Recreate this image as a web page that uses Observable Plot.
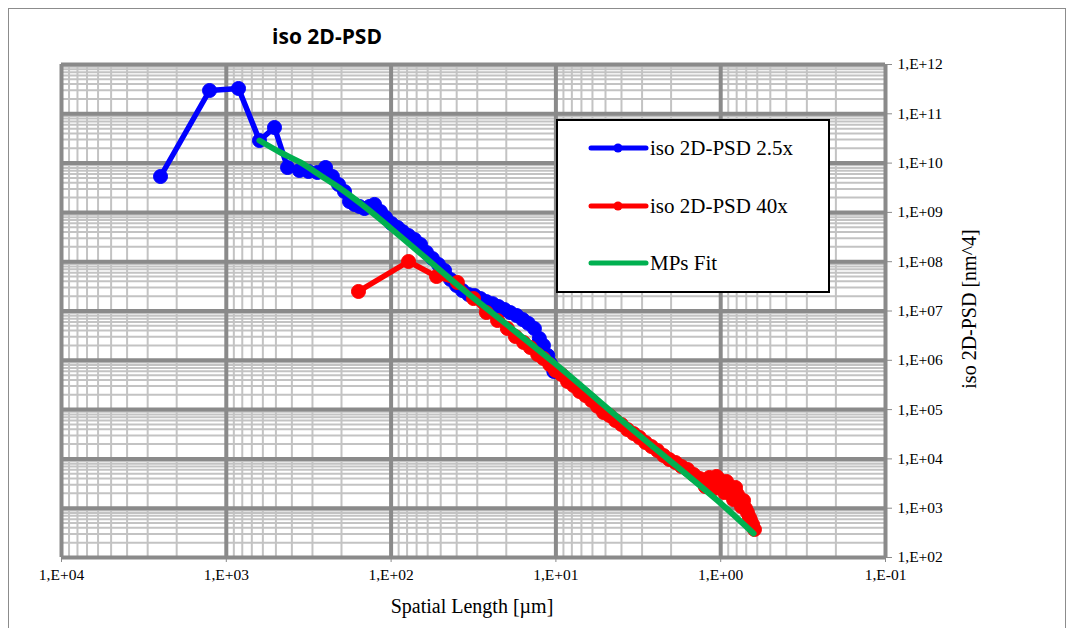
<!DOCTYPE html>
<html><head><meta charset="utf-8">
<script src="https://cdn.jsdelivr.net/npm/d3@7"></script>
<script src="https://cdn.jsdelivr.net/npm/@observablehq/plot@0.6"></script>
<style>
body{margin:0;background:#fff}
#wrap{position:relative;width:1074px;height:628px;overflow:hidden;background:#fff}
#chart{position:absolute;left:0;top:0}
#overlay{position:absolute;left:0;top:0}
g[aria-label="x-axis tick"], g[aria-label="y-axis tick"]{stroke:#8a8a8a}
</style></head><body><div id="wrap"><div id="chart"></div></div>
<script>
// ---- data (spatial length in µm, iso 2D-PSD in nm^4) ----
const blueX = [2507,1264,843,629,510,425,360,317,280,250,227,208.5,191.8,178.8,166.8,155.5,145,135.2,126.1,116,108.1,99.4,91.4,85.3,78.4,72.1,66.3,61.0,56.1,51.6,47.4,43.6,40.1,36.9,33.9,31.2,28.7,26.4,24.2,22.3,20.5,18.9,17.3,15.9,14.7,13.5,12.6,11.9,11.2,10.8,10.3];
const blueY = [5.35e9,2.97e11,3.26e11,2.87e10,5.27e10,8.14e9,7.08e9,6.76e9,6.45e9,8.14e9,5.35e9,3.68e9,2.65e9,1.66e9,1.45e9,1.32e9,1.20e9,1.32e9,1.45e9,1.04e9,7.88e8,5.95e8,4.94e8,4.10e8,3.40e8,2.82e8,2.23e8,1.54e8,1.16e8,8.78e7,6.63e7,4.35e7,3.29e7,2.60e7,2.16e7,2.06e7,1.79e7,1.55e7,1.41e7,1.23e7,1.07e7,9.3e6,8.1e6,6.7e6,5.6e6,4.4e6,2.77e6,2.00e6,1.25e6,8.61e5,5.93e5];

const redX = [157.7,78.4,53.0,39.6,31.6,26.4,22.6,19.7,17.6,15.7,14.3,12.9,11.9,10.9,10.06,9.25,8.50,7.82,7.19,6.61,6.08,5.59,5.14,4.73,4.35,4.00,3.68,3.38,3.11,2.86,2.63,2.42,2.22,2.05,1.88,1.73,1.59,1.46,1.34,1.24,1.17,1.137,1.09,1.060,1.02,0.989,0.948,0.922,0.897,0.860,0.836,0.813,0.791,0.769,0.748,0.727,0.707,0.688,0.669,0.659,0.641,0.624];
const redY = [2.49e7,1.01e8,5.01e7,3.79e7,1.79e7,9.32e6,6.42e6,4.42e6,3.04e6,2.30e6,1.82e6,1.31e6,1.09e6,8.22e5,6.21e5,5.15e5,3.72e5,3.08e5,2.33e5,1.93e5,1.53e5,1.16e5,8.73e4,7.59e4,6.01e4,4.99e4,3.95e4,3.27e4,2.72e4,2.15e4,1.78e4,1.48e4,1.17e4,9.72e3,8.45e3,7.01e3,6.10e3,4.83e3,4.00e3,2.75e3,4.20e3,3.32e3,2.51e3,4.40e3,3.82e3,2.75e3,2.08e3,3.48e3,2.75e3,2.29e3,1.50e3,2.63e3,1.90e3,1.57e3,1.08e3,1.43e3,986,818,648,563,467,370];

const fitX = [629,469,355,268,203,153.4,116,87.7,66.3,37.9,21.7,10.3,3.38,1.046,0.632];
const fitY = [2.87e10,1.64e10,1.03e10,5.6e9,3.05e9,1.52e9,7.18e8,3.24e8,1.47e8,3.0e7,6.73e6,9.0e5,3.77e4,1432,307];

const seriesNames = ["iso 2D-PSD 2.5x","iso 2D-PSD 40x","MPs Fit"];
const seriesColors = ["#0000ff","#ff0000","#00b050"];

const xTicks = [1e4,1e3,1e2,1e1,1,1e-1];
const xTickLabels = ["1,E+04","1,E+03","1,E+02","1,E+01","1,E+00","1,E-01"];
const yTicks = [1e2,1e3,1e4,1e5,1e6,1e7,1e8,1e9,1e10,1e11,1e12];
const yTickLabels = ["1,E+02","1,E+03","1,E+04","1,E+05","1,E+06","1,E+07","1,E+08","1,E+09","1,E+10","1,E+11","1,E+12"];
const gridMultipliers = [2,3,4,5,6,7,8,9];
const xDecades = [0.1,1,10,100,1000];
const yDecades = [1e2,1e3,1e4,1e5,1e6,1e7,1e8,1e9,1e10,1e11];

const titleText = "iso 2D-PSD";
const xTitle = "Spatial Length [µm]";
const yTitle = "iso 2D-PSD [nm^4]";

// ---- build ----
const toRows = (xs, ys) => xs.map((x, i) => ({x, y: ys[i]}));
const blue = toRows(blueX, blueY);
const red = toRows(redX, redY);
const fit = toRows(fitX, fitY);
const minorX = xDecades.flatMap(d => gridMultipliers.map(m => d * m));
const minorY = yDecades.flatMap(d => gridMultipliers.map(m => d * m));
const xLab = new Map(xTicks.map((t, i) => [t, xTickLabels[i]]));
const yLab = new Map(yTicks.map((t, i) => [t, yTickLabels[i]]));

const W = 1074, H = 628;
const chart = Plot.plot({
  width: W, height: H,
  marginLeft: 61, marginRight: 189, marginTop: 64, marginBottom: 71,
  style: {fontFamily: "'Liberation Serif', serif", fontSize: "15.5px", color: "#000", background: "transparent", overflow: "visible"},
  x: {type: "log", domain: [1e4, 1e-1]},
  y: {type: "log", domain: [1e2, 1e12]},
  marks: [
    Plot.ruleX(minorX, {stroke: "#c3c3c3", strokeWidth: 2}),
    Plot.ruleY(minorY, {stroke: "#c3c3c3", strokeWidth: 2}),
    Plot.ruleX(xTicks, {stroke: "#8a8a8a", strokeWidth: 4}),
    Plot.ruleY(yTicks, {stroke: "#8a8a8a", strokeWidth: 4}),
    Plot.axisX({ticks: xTicks, tickFormat: d => xLab.get(d), tickSize: 5, tickPadding: 6, fontSize: 15.5, label: null}),
    Plot.axisY({anchor: "right", ticks: yTicks, tickFormat: d => yLab.get(d), tickSize: 6, tickPadding: 6, fontSize: 15.5, label: null}),
    Plot.line(blue, {x: "x", y: "y", stroke: seriesColors[0], strokeWidth: 5.5}),
    Plot.dot(blue, {x: "x", y: "y", r: 7, fill: seriesColors[0], stroke: seriesColors[0], strokeWidth: 1}),
    Plot.line(red, {x: "x", y: "y", stroke: seriesColors[1], strokeWidth: 5.5}),
    Plot.dot(red, {x: "x", y: "y", r: 7, fill: seriesColors[1], stroke: seriesColors[1], strokeWidth: 1}),
    Plot.line(fit, {x: "x", y: "y", stroke: seriesColors[2], strokeWidth: 6, curve: "catmull-rom"})
  ]
});
document.getElementById("chart").appendChild(chart);

// ---- overlay: border, title, axis titles, legend ----
const ov = d3.select("#wrap").append("svg").attr("id", "overlay")
  .attr("width", W).attr("height", H);
ov.append("rect").attr("x", 8.5).attr("y", 8.5).attr("width", 1057).attr("height", 660)
  .attr("fill", "none").attr("stroke", "#8c8c8c").attr("stroke-width", 1);
ov.append("text").attr("x", 327).attr("y", 44).attr("text-anchor", "middle")
  .attr("font-family", "'Open Sans', sans-serif").attr("font-weight", "bold").attr("font-size", 21)
  .text(titleText);
ov.append("text").attr("x", 472).attr("y", 613).attr("text-anchor", "middle")
  .attr("font-family", "'Liberation Serif', serif").attr("font-size", 20).text(xTitle);
ov.append("text").attr("transform", "translate(976,309) rotate(-90)").attr("text-anchor", "middle")
  .attr("font-family", "'Liberation Serif', serif").attr("font-size", 20).text(yTitle);

const lg = ov.append("g");
lg.append("rect").attr("x", 557).attr("y", 120).attr("width", 272).attr("height", 172)
  .attr("fill", "#fff").attr("stroke", "#000").attr("stroke-width", 2);
const rowsY = [148, 206, 263];
seriesNames.forEach((name, i) => {
  const y = rowsY[i];
  lg.append("line").attr("x1", 591).attr("x2", 646).attr("y1", y).attr("y2", y)
    .attr("stroke", seriesColors[i]).attr("stroke-width", 5).attr("stroke-linecap", "round");
  if (i < 2) lg.append("circle").attr("cx", 618).attr("cy", y).attr("r", 4.5).attr("fill", seriesColors[i]);
  lg.append("text").attr("x", 650).attr("y", y + 7)
    .attr("font-family", "'Liberation Serif', serif").attr("font-size", 21).text(name);
});
</script></body></html>
